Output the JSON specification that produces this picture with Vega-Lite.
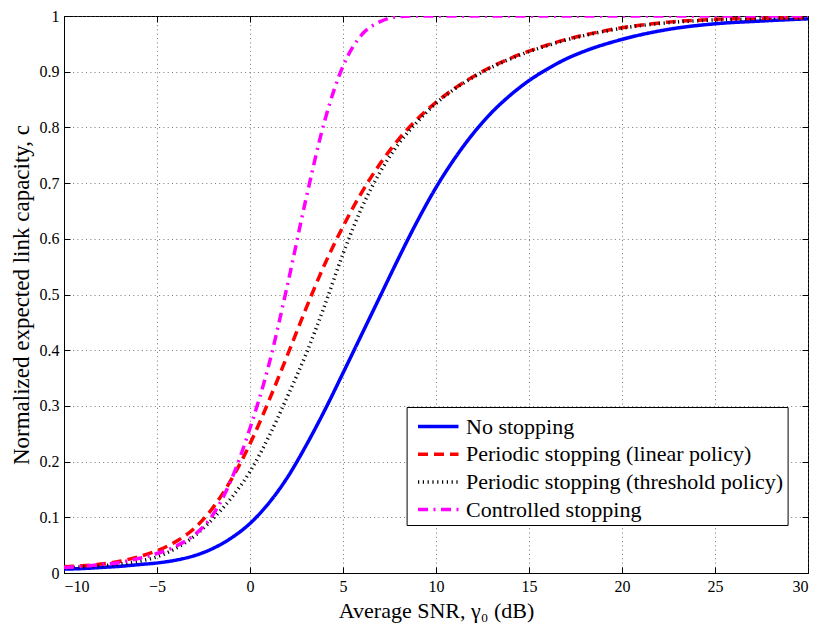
{
  "$schema": "https://vega.github.io/schema/vega-lite/v6.json",
  "width": 744,
  "height": 557,
  "autosize": {"type": "none"},
  "padding": {"left": 64, "top": 16, "right": 8, "bottom": 51},
  "background": "white",
  "config": {
    "font": "Liberation Serif",
    "view": {"stroke": "black", "strokeWidth": 1},
    "axis": {
      "domainColor": "black",
      "tickColor": "black",
      "labelColor": "black",
      "titleColor": "black",
      "labelFont": "Liberation Serif",
      "titleFont": "Liberation Serif",
      "labelFontSize": 16,
      "titleFontWeight": "normal",
      "gridColor": "#555",
      "gridDash": [1, 3.3],
      "gridWidth": 0.8
    },
    "legend": {"labelFont": "Liberation Serif"}
  },
  "data": {
    "values": [
      {"x": -10, "c": 0.007, "s": "No stopping"},
      {"x": -9, "c": 0.008, "s": "No stopping"},
      {"x": -8, "c": 0.010, "s": "No stopping"},
      {"x": -7, "c": 0.012, "s": "No stopping"},
      {"x": -6, "c": 0.015, "s": "No stopping"},
      {"x": -5, "c": 0.018, "s": "No stopping"},
      {"x": -4, "c": 0.023, "s": "No stopping"},
      {"x": -3, "c": 0.031, "s": "No stopping"},
      {"x": -2, "c": 0.044, "s": "No stopping"},
      {"x": -1, "c": 0.063, "s": "No stopping"},
      {"x": 0, "c": 0.089, "s": "No stopping"},
      {"x": 1, "c": 0.125, "s": "No stopping"},
      {"x": 2, "c": 0.171, "s": "No stopping"},
      {"x": 3, "c": 0.228, "s": "No stopping"},
      {"x": 4, "c": 0.291, "s": "No stopping"},
      {"x": 5, "c": 0.359, "s": "No stopping"},
      {"x": 6, "c": 0.428, "s": "No stopping"},
      {"x": 7, "c": 0.497, "s": "No stopping"},
      {"x": 8, "c": 0.566, "s": "No stopping"},
      {"x": 9, "c": 0.632, "s": "No stopping"},
      {"x": 10, "c": 0.692, "s": "No stopping"},
      {"x": 11, "c": 0.744, "s": "No stopping"},
      {"x": 12, "c": 0.789, "s": "No stopping"},
      {"x": 13, "c": 0.827, "s": "No stopping"},
      {"x": 14, "c": 0.858, "s": "No stopping"},
      {"x": 15, "c": 0.884, "s": "No stopping"},
      {"x": 16, "c": 0.905, "s": "No stopping"},
      {"x": 17, "c": 0.923, "s": "No stopping"},
      {"x": 18, "c": 0.937, "s": "No stopping"},
      {"x": 20, "c": 0.958, "s": "No stopping"},
      {"x": 22.5, "c": 0.976, "s": "No stopping"},
      {"x": 25, "c": 0.986, "s": "No stopping"},
      {"x": 27.5, "c": 0.991, "s": "No stopping"},
      {"x": 30, "c": 0.995, "s": "No stopping"},

      {"x": -10, "c": 0.011, "s": "Periodic stopping (linear policy)"},
      {"x": -9, "c": 0.013, "s": "Periodic stopping (linear policy)"},
      {"x": -8, "c": 0.016, "s": "Periodic stopping (linear policy)"},
      {"x": -7, "c": 0.021, "s": "Periodic stopping (linear policy)"},
      {"x": -6, "c": 0.029, "s": "Periodic stopping (linear policy)"},
      {"x": -5, "c": 0.04, "s": "Periodic stopping (linear policy)"},
      {"x": -4, "c": 0.056, "s": "Periodic stopping (linear policy)"},
      {"x": -3, "c": 0.08, "s": "Periodic stopping (linear policy)"},
      {"x": -2, "c": 0.117, "s": "Periodic stopping (linear policy)"},
      {"x": -1, "c": 0.168, "s": "Periodic stopping (linear policy)"},
      {"x": 0, "c": 0.232, "s": "Periodic stopping (linear policy)"},
      {"x": 1, "c": 0.308, "s": "Periodic stopping (linear policy)"},
      {"x": 2, "c": 0.39, "s": "Periodic stopping (linear policy)"},
      {"x": 3, "c": 0.474, "s": "Periodic stopping (linear policy)"},
      {"x": 4, "c": 0.553, "s": "Periodic stopping (linear policy)"},
      {"x": 5, "c": 0.622, "s": "Periodic stopping (linear policy)"},
      {"x": 6, "c": 0.683, "s": "Periodic stopping (linear policy)"},
      {"x": 7, "c": 0.735, "s": "Periodic stopping (linear policy)"},
      {"x": 8, "c": 0.779, "s": "Periodic stopping (linear policy)"},
      {"x": 9, "c": 0.815, "s": "Periodic stopping (linear policy)"},
      {"x": 10, "c": 0.845, "s": "Periodic stopping (linear policy)"},
      {"x": 11, "c": 0.87, "s": "Periodic stopping (linear policy)"},
      {"x": 12, "c": 0.891, "s": "Periodic stopping (linear policy)"},
      {"x": 13, "c": 0.909, "s": "Periodic stopping (linear policy)"},
      {"x": 14, "c": 0.924, "s": "Periodic stopping (linear policy)"},
      {"x": 15, "c": 0.937, "s": "Periodic stopping (linear policy)"},
      {"x": 16, "c": 0.948, "s": "Periodic stopping (linear policy)"},
      {"x": 17, "c": 0.958, "s": "Periodic stopping (linear policy)"},
      {"x": 18, "c": 0.966, "s": "Periodic stopping (linear policy)"},
      {"x": 20, "c": 0.979, "s": "Periodic stopping (linear policy)"},
      {"x": 22.5, "c": 0.989, "s": "Periodic stopping (linear policy)"},
      {"x": 25, "c": 0.994, "s": "Periodic stopping (linear policy)"},
      {"x": 27.5, "c": 0.996, "s": "Periodic stopping (linear policy)"},
      {"x": 30, "c": 0.997, "s": "Periodic stopping (linear policy)"},

      {"x": -10, "c": 0.009, "s": "Periodic stopping (threshold policy)"},
      {"x": -9, "c": 0.011, "s": "Periodic stopping (threshold policy)"},
      {"x": -8, "c": 0.013, "s": "Periodic stopping (threshold policy)"},
      {"x": -7, "c": 0.016, "s": "Periodic stopping (threshold policy)"},
      {"x": -6, "c": 0.021, "s": "Periodic stopping (threshold policy)"},
      {"x": -5, "c": 0.029, "s": "Periodic stopping (threshold policy)"},
      {"x": -4, "c": 0.044, "s": "Periodic stopping (threshold policy)"},
      {"x": -3, "c": 0.066, "s": "Periodic stopping (threshold policy)"},
      {"x": -2, "c": 0.097, "s": "Periodic stopping (threshold policy)"},
      {"x": -1, "c": 0.135, "s": "Periodic stopping (threshold policy)"},
      {"x": 0, "c": 0.182, "s": "Periodic stopping (threshold policy)"},
      {"x": 1, "c": 0.244, "s": "Periodic stopping (threshold policy)"},
      {"x": 2, "c": 0.316, "s": "Periodic stopping (threshold policy)"},
      {"x": 3, "c": 0.392, "s": "Periodic stopping (threshold policy)"},
      {"x": 4, "c": 0.479, "s": "Periodic stopping (threshold policy)"},
      {"x": 5, "c": 0.573, "s": "Periodic stopping (threshold policy)"},
      {"x": 6, "c": 0.655, "s": "Periodic stopping (threshold policy)"},
      {"x": 7, "c": 0.72, "s": "Periodic stopping (threshold policy)"},
      {"x": 8, "c": 0.771, "s": "Periodic stopping (threshold policy)"},
      {"x": 9, "c": 0.81, "s": "Periodic stopping (threshold policy)"},
      {"x": 10, "c": 0.843, "s": "Periodic stopping (threshold policy)"},
      {"x": 11, "c": 0.869, "s": "Periodic stopping (threshold policy)"},
      {"x": 12, "c": 0.89, "s": "Periodic stopping (threshold policy)"},
      {"x": 13, "c": 0.908, "s": "Periodic stopping (threshold policy)"},
      {"x": 14, "c": 0.923, "s": "Periodic stopping (threshold policy)"},
      {"x": 15, "c": 0.936, "s": "Periodic stopping (threshold policy)"},
      {"x": 16, "c": 0.947, "s": "Periodic stopping (threshold policy)"},
      {"x": 17, "c": 0.957, "s": "Periodic stopping (threshold policy)"},
      {"x": 18, "c": 0.965, "s": "Periodic stopping (threshold policy)"},
      {"x": 20, "c": 0.978, "s": "Periodic stopping (threshold policy)"},
      {"x": 22.5, "c": 0.988, "s": "Periodic stopping (threshold policy)"},
      {"x": 25, "c": 0.993, "s": "Periodic stopping (threshold policy)"},
      {"x": 27.5, "c": 0.995, "s": "Periodic stopping (threshold policy)"},
      {"x": 30, "c": 0.997, "s": "Periodic stopping (threshold policy)"},

      {"x": -10, "c": 0.01, "s": "Controlled stopping"},
      {"x": -9, "c": 0.012, "s": "Controlled stopping"},
      {"x": -8, "c": 0.015, "s": "Controlled stopping"},
      {"x": -7, "c": 0.019, "s": "Controlled stopping"},
      {"x": -6, "c": 0.026, "s": "Controlled stopping"},
      {"x": -5, "c": 0.035, "s": "Controlled stopping"},
      {"x": -4, "c": 0.048, "s": "Controlled stopping"},
      {"x": -3, "c": 0.068, "s": "Controlled stopping"},
      {"x": -2, "c": 0.104, "s": "Controlled stopping"},
      {"x": -1, "c": 0.168, "s": "Controlled stopping"},
      {"x": 0, "c": 0.26, "s": "Controlled stopping"},
      {"x": 1, "c": 0.372, "s": "Controlled stopping"},
      {"x": 2, "c": 0.515, "s": "Controlled stopping"},
      {"x": 3, "c": 0.67, "s": "Controlled stopping"},
      {"x": 4, "c": 0.81, "s": "Controlled stopping"},
      {"x": 5, "c": 0.91, "s": "Controlled stopping"},
      {"x": 6, "c": 0.966, "s": "Controlled stopping"},
      {"x": 7, "c": 0.99, "s": "Controlled stopping"},
      {"x": 8, "c": 0.999, "s": "Controlled stopping"},
      {"x": 9, "c": 1, "s": "Controlled stopping"},
      {"x": 10, "c": 1, "s": "Controlled stopping"},
      {"x": 12, "c": 1, "s": "Controlled stopping"},
      {"x": 15, "c": 1, "s": "Controlled stopping"},
      {"x": 20, "c": 1, "s": "Controlled stopping"},
      {"x": 25, "c": 1, "s": "Controlled stopping"},
      {"x": 30, "c": 1, "s": "Controlled stopping"}
    ]
  },
  "layer": [
    {
      "mark": {"type": "line", "interpolate": "monotone", "clip": true},
      "encoding": {
        "x": {
          "field": "x", "type": "quantitative",
          "scale": {"domain": [-10, 30], "nice": false, "zero": false},
          "axis": {
            "values": [-10, -5, 0, 5, 10, 15, 20, 25, 30],
            "format": "~g",
            "title": "Average SNR, γ₀ (dB)",
            "titleFontSize": 22,
            "titlePadding": 6,
            "tickSize": -6,
            "labelPadding": 11,
            "grid": true
          }
        },
        "y": {
          "field": "c", "type": "quantitative",
          "scale": {"domain": [0, 1], "nice": false},
          "axis": {
            "values": [0, 0.1, 0.2, 0.3, 0.4, 0.5, 0.6, 0.7, 0.8, 0.9, 1],
            "format": "~g",
            "title": "Normalized expected link capacity, c",
            "titleFontSize": 23,
            "titlePadding": 6,
            "tickSize": -6,
            "labelPadding": 11,
            "grid": true
          }
        },
        "color": {
          "field": "s", "type": "nominal",
          "scale": {
            "domain": ["No stopping", "Periodic stopping (linear policy)", "Periodic stopping (threshold policy)", "Controlled stopping"],
            "range": ["#0000ff", "#ff0000", "#000000", "#ff00ff"]
          },
          "legend": {
            "orient": "none",
            "legendX": 342.6,
            "legendY": 391,
            "title": null,
            "symbolType": "M-0.6,0H2.4",
            "symbolSize": 729,
            "labelOffset": 24.4,
            "labelFontSize": 22,
            "labelFont": "Liberation Serif",
            "labelColor": "black",
            "labelLimit": 500,
            "padding": 4,
            "rowPadding": 0.7,
            "strokeColor": "black",
            "fillColor": "white"
          }
        },
        "strokeDash": {
          "field": "s", "type": "nominal",
          "scale": {
            "domain": ["No stopping", "Periodic stopping (linear policy)", "Periodic stopping (threshold policy)", "Controlled stopping"],
            "range": [[1, 0], [10, 6], [1.2, 3.6], [10, 5.5, 2, 5.5]]
          }
        },
        "strokeWidth": {
          "field": "s", "type": "nominal",
          "scale": {
            "domain": ["No stopping", "Periodic stopping (linear policy)", "Periodic stopping (threshold policy)", "Controlled stopping"],
            "range": [3.5, 3.5, 1.5, 3.5]
          }
        }
      }
    },
    {
      "mark": {"type": "line", "opacity": 0},
      "encoding": {
        "x": {
          "field": "x", "type": "quantitative",
          "axis": {
            "orient": "top", "values": [-10, -5, 0, 5, 10, 15, 20, 25, 30],
            "labels": false, "title": null, "grid": false, "tickSize": -6, "domain": false
          }
        },
        "y": {
          "field": "c", "type": "quantitative",
          "axis": {
            "orient": "right", "values": [0, 0.1, 0.2, 0.3, 0.4, 0.5, 0.6, 0.7, 0.8, 0.9, 1],
            "labels": false, "title": null, "grid": false, "tickSize": -6, "domain": false
          }
        }
      }
    }
  ],
  "resolve": {"axis": {"x": "independent", "y": "independent"}}
}
